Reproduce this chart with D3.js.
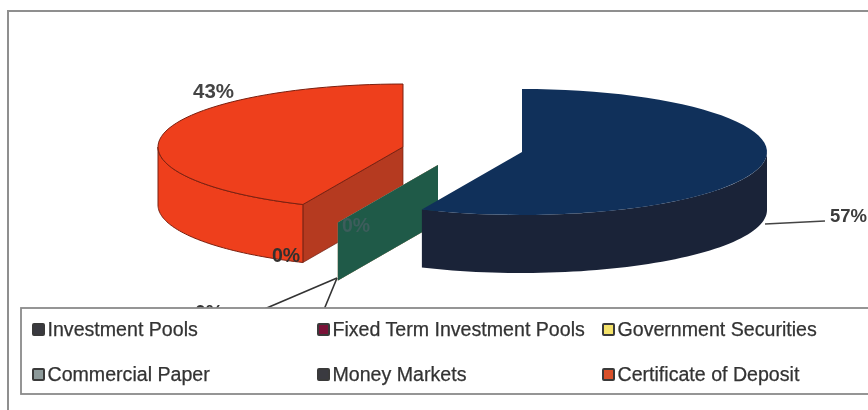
<!DOCTYPE html>
<meta charset="utf-8">
<title>Investment mix</title>
<script src="https://d3js.org/d3.v7.min.js"></script>
<style>
body { margin: 0; background: #fff; }
svg { display: block; filter: blur(0.55px); }
text { font-family: "Liberation Sans", Arial, sans-serif; }
</style>

<div id="chart"></div>
<script>
// Data
const categories = ["Investment Pools", "Fixed Term Investment Pools", "Government Securities",
                    "Commercial Paper", "Money Markets", "Certificate of Deposit"];
const values = [56.7, 0, 0, 0, 0, 43.3];
const topColors = ["#10305a", "#7a1238", "#f4e26a", "#7f8c8c", "#1f5a48", "#ee3f1c"];
const swatchInner = ["#3a3a40", "#7a1238", "#f4e26a", "#8d9a9a", "#3a3a40", "#d9502a"];

const width = 868, height = 410;
const rx = 245, ry = 63, depth = 58;

// centre of each exploded slice
const centers = [[522, 152], [438, 165], [438, 165], [438, 165], [438, 165], [403, 147]];
const wallColors = {0: "#1a2338", 5: "#ee3f1c"};
const cutColor = "#b53a20";

const svg = d3.select("#chart")
    .append("svg")
    .attr("width", width)
    .attr("height", height);

const pie = d3.pie().sort(null).value(d => d);
const arcs = pie(values);
const line = d3.line();

function pt(c, a, dy) {
    return [c[0] + rx * Math.sin(a), c[1] - ry * Math.cos(a) + (dy || 0)];
}
function arcPts(c, a0, a1, dy) {
    const n = 60;
    return d3.range(n + 1).map(i => pt(c, a0 + (a1 - a0) * i / n, dy));
}

// outer frame
svg.append("path")
    .attr("d", `M8,${height}V11H${width}`)
    .attr("fill", "none")
    .attr("stroke", "#8f8f8f")
    .attr("stroke-width", 2);

// leader lines run in behind the legend
const leaderFrom = [337, 278];
const leaderTo = [[262, 310], [323, 312]];
leaderTo.forEach(t => {
    svg.append("line")
        .attr("x1", leaderFrom[0]).attr("y1", leaderFrom[1])
        .attr("x2", t[0]).attr("y2", t[1])
        .attr("stroke", "#333").attr("stroke-width", 1.6);
});
svg.append("line")
    .attr("x1", 765).attr("y1", 224).attr("x2", 825).attr("y2", 221)
    .attr("stroke", "#444").attr("stroke-width", 1.6);

// draw order back to front: red, zero slices, blue
[5, 1, 2, 3, 4, 0].forEach(i => {
    const d = arcs[i], c = centers[i], g = svg.append("g");
    if (d.value === 0) {
        // empty slice only shows its cut face
        g.append("path")
            .attr("d", line([c, pt(c, d.startAngle), pt(c, d.startAngle, depth),
                             [c[0], c[1] + depth]]) + "Z")
            .attr("fill", topColors[i]);
        return;
    }
    const wa0 = Math.max(d.startAngle, Math.PI / 2),
          wa1 = Math.min(d.endAngle, Math.PI * 1.5);
    if (i === 5) {
        g.append("path")
            .attr("d", line([c, pt(c, d.startAngle), pt(c, d.startAngle, depth),
                             [c[0], c[1] + depth]]) + "Z")
            .attr("fill", cutColor)
            .attr("stroke", "#6d2012").attr("stroke-width", 0.7);
    }
    g.append("path")
        .attr("d", line(arcPts(c, wa0, wa1, 0).concat(arcPts(c, wa1, wa0, depth))) + "Z")
        .attr("fill", wallColors[i])
        .attr("stroke", i === 5 ? "#7a2010" : "none").attr("stroke-width", 1);
    g.append("path")
        .attr("d", line([c].concat(arcPts(c, d.startAngle, d.endAngle, 0))) + "Z")
        .attr("fill", topColors[i])
        .attr("stroke", i === 5 ? "#7a2010" : "none").attr("stroke-width", 1);
});

// percent labels
const pct = d => d3.format(".0f")(d) + "%";
const labelSpots = [[830, 222, "#3c3c3c", 18.5], [342, 232, "#3d5d5c", 19.5], [272, 262, "#33302e", 19.5],
                    [195, 319, "#333", 19.5], [300, 330, "#333", 19.5], [193, 98, "#444", 20.5]];
svg.selectAll("text.pct")
    .data(values)
    .enter()
    .append("text")
    .attr("class", "pct")
    .attr("x", (d, i) => labelSpots[i][0])
    .attr("y", (d, i) => labelSpots[i][1])
    .attr("fill", (d, i) => labelSpots[i][2])
    .attr("font-size", (d, i) => labelSpots[i][3])
    .attr("font-weight", 600)
    .text(pct);

// legend
svg.append("rect")
    .attr("x", 21).attr("y", 308)
    .attr("width", width).attr("height", 86)
    .attr("fill", "#fff")
    .attr("stroke", "#8a8a8a").attr("stroke-width", 1.8);

const colX = [32, 317, 602], rowY = [336, 381];
const legendPos = i => [colX[i % 3], rowY[Math.floor(i / 3)]];

const legend = svg.selectAll("g.legend")
    .data(categories)
    .enter()
    .append("g")
    .attr("class", "legend")
    .attr("transform", (d, i) => `translate(${legendPos(i)[0]},${legendPos(i)[1]})`);

legend.append("rect")
    .attr("x", 1).attr("y", -12)
    .attr("width", 11).attr("height", 11)
    .attr("rx", 1)
    .attr("fill", (d, i) => swatchInner[i])
    .attr("stroke", "#3a3a3a").attr("stroke-width", 2);

legend.append("text")
    .attr("x", 15.5)
    .attr("y", 0)
    .attr("fill", "#333")
    .attr("stroke", "#333")
    .attr("stroke-width", 0.25)
    .attr("font-size", 19.6)
    .text(d => d);
</script>
